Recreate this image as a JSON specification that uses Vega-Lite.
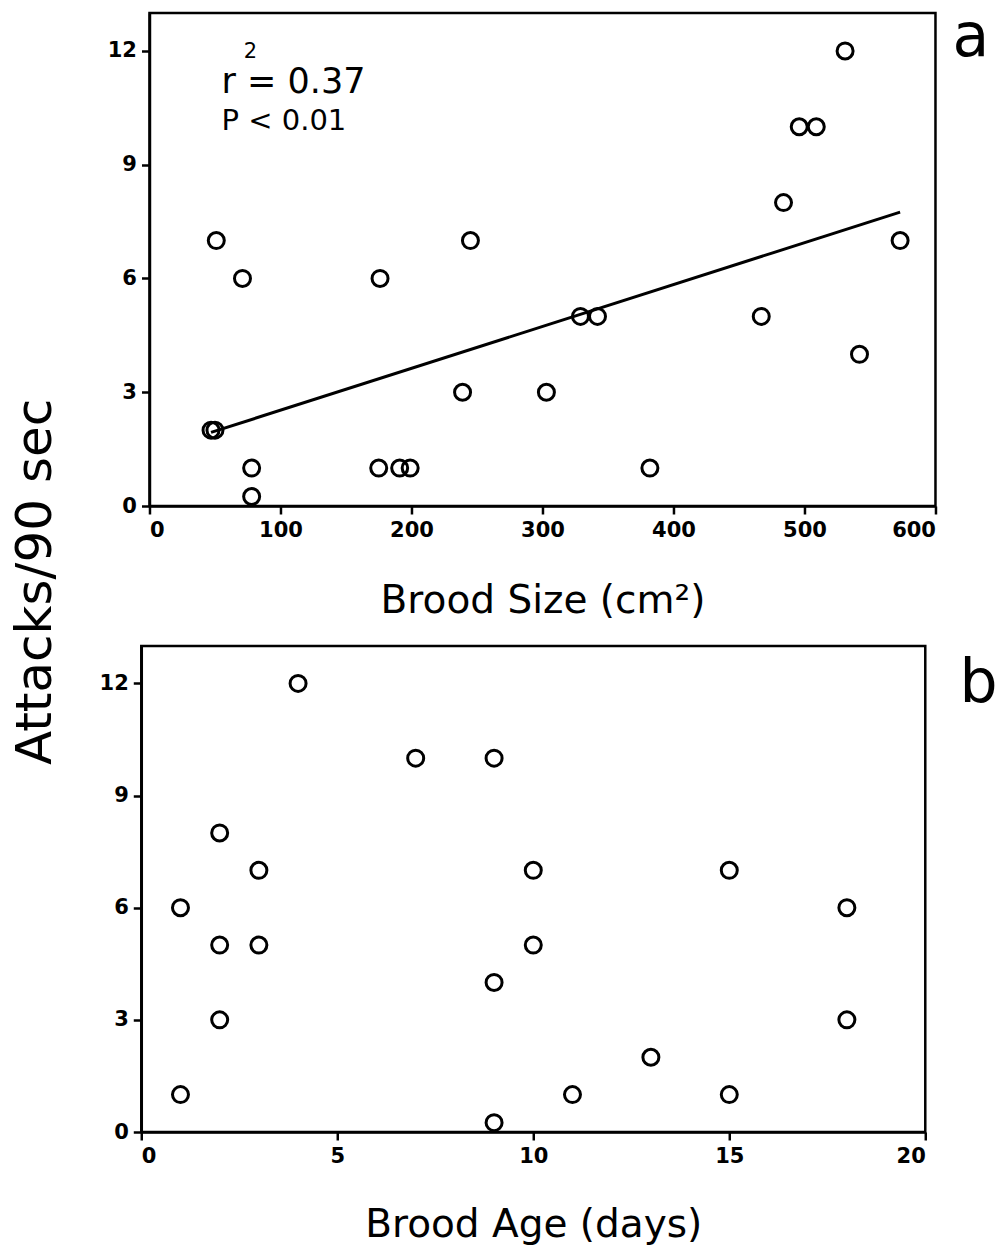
{
  "$schema": "https://vega.github.io/schema/vega-lite/v6.json",
  "background": "white",
  "padding": {"left": 10, "top": 6, "right": 0, "bottom": 0},
  "title": {
    "text": "Attacks/90 sec",
    "orient": "left",
    "anchor": "middle",
    "font": "DejaVu Sans",
    "fontSize": 50,
    "fontWeight": "normal",
    "color": "black",
    "offset": 37,
    "dx": 44
  },
  "datasets": {
    "bySize": [
      {"size": 47, "attacks": 2},
      {"size": 50, "attacks": 2},
      {"size": 51, "attacks": 7},
      {"size": 71, "attacks": 6},
      {"size": 78, "attacks": 1},
      {"size": 78, "attacks": 0.25},
      {"size": 175, "attacks": 1},
      {"size": 176, "attacks": 6},
      {"size": 191, "attacks": 1},
      {"size": 199, "attacks": 1},
      {"size": 239, "attacks": 3},
      {"size": 245, "attacks": 7},
      {"size": 303, "attacks": 3},
      {"size": 329, "attacks": 5},
      {"size": 342, "attacks": 5},
      {"size": 382, "attacks": 1},
      {"size": 467, "attacks": 5},
      {"size": 484, "attacks": 8},
      {"size": 496, "attacks": 10},
      {"size": 509, "attacks": 10},
      {"size": 531, "attacks": 12},
      {"size": 542, "attacks": 4},
      {"size": 573, "attacks": 7}
    ],
    "fit": [
      {"size": 47, "attacks": 1.94},
      {"size": 573, "attacks": 7.75}
    ],
    "byAge": [
      {"age": 1, "attacks": 6},
      {"age": 1, "attacks": 1},
      {"age": 2, "attacks": 8},
      {"age": 2, "attacks": 5},
      {"age": 2, "attacks": 3},
      {"age": 3, "attacks": 7},
      {"age": 3, "attacks": 5},
      {"age": 4, "attacks": 12},
      {"age": 7, "attacks": 10},
      {"age": 9, "attacks": 10},
      {"age": 9, "attacks": 4},
      {"age": 9, "attacks": 0.25},
      {"age": 10, "attacks": 7},
      {"age": 10, "attacks": 5},
      {"age": 11, "attacks": 1},
      {"age": 13, "attacks": 2},
      {"age": 15, "attacks": 7},
      {"age": 15, "attacks": 1},
      {"age": 18, "attacks": 6},
      {"age": 18, "attacks": 3}
    ]
  },
  "config": {
    "view": {"stroke": "black", "strokeWidth": 2.5},
    "axis": {
      "grid": false,
      "domainColor": "black",
      "domainWidth": 2.5,
      "tickColor": "black",
      "tickWidth": 2.5,
      "tickSize": 8,
      "labelPadding": 5,
      "labelFont": "DejaVu Sans",
      "labelFontWeight": "bold",
      "labelFontSize": 21,
      "labelColor": "black",
      "titleFont": "DejaVu Sans",
      "titleFontWeight": "normal",
      "titleFontSize": 39,
      "titleColor": "black"
    },
    "text": {"font": "DejaVu Sans", "color": "black"}
  },
  "spacing": 22,
  "center": true,
  "vconcat": [
    {
      "width": 786,
      "height": 493,
      "layer": [
        {
          "data": {"name": "bySize"},
          "mark": {"type": "point", "shape": "circle", "filled": false, "size": 256, "strokeWidth": 3, "color": "black", "opacity": 1},
          "encoding": {
            "x": {
              "field": "size", "type": "quantitative",
              "scale": {"domain": [0, 600], "nice": false, "zero": false},
              "axis": {"values": [0, 100, 200, 300, 400, 500, 600], "title": "Brood Size (cm²)", "titlePadding": 41}
            },
            "y": {
              "field": "attacks", "type": "quantitative",
              "scale": {"domain": [0, 13], "nice": false},
              "axis": {"values": [0, 3, 6, 9, 12], "title": null}
            }
          }
        },
        {
          "data": {"name": "fit"},
          "mark": {"type": "line", "color": "black", "strokeWidth": 3},
          "encoding": {
            "x": {"field": "size", "type": "quantitative"},
            "y": {"field": "attacks", "type": "quantitative"}
          }
        },
        {
          "data": {"values": [{}]},
          "mark": {"type": "text", "text": "r = 0.37", "fontSize": 35, "align": "left", "baseline": "alphabetic"},
          "encoding": {"x": {"datum": 55}, "y": {"datum": 10.9}}
        },
        {
          "data": {"values": [{}]},
          "mark": {"type": "text", "text": "2", "fontSize": 21, "align": "left", "baseline": "alphabetic"},
          "encoding": {"x": {"datum": 72}, "y": {"datum": 11.81}}
        },
        {
          "data": {"values": [{}]},
          "mark": {"type": "text", "text": "P < 0.01", "fontSize": 29, "align": "left", "baseline": "alphabetic"},
          "encoding": {"x": {"datum": 55}, "y": {"datum": 9.92}}
        },
        {
          "data": {"values": [{}]},
          "mark": {"type": "text", "text": "a", "fontSize": 60, "align": "left", "baseline": "alphabetic"},
          "encoding": {"x": {"datum": 613}, "y": {"datum": 11.87}}
        }
      ]
    },
    {
      "width": 784,
      "height": 486,
      "layer": [
        {
          "data": {"name": "byAge"},
          "mark": {"type": "point", "shape": "circle", "filled": false, "size": 256, "strokeWidth": 3, "color": "black", "opacity": 1},
          "encoding": {
            "x": {
              "field": "age", "type": "quantitative",
              "scale": {"domain": [0, 20], "nice": false, "zero": false},
              "axis": {"values": [0, 5, 10, 15, 20], "title": "Brood Age (days)", "titlePadding": 39}
            },
            "y": {
              "field": "attacks", "type": "quantitative",
              "scale": {"domain": [0, 13], "nice": false},
              "axis": {"values": [0, 3, 6, 9, 12], "title": null}
            }
          }
        },
        {
          "data": {"values": [{}]},
          "mark": {"type": "text", "text": "b", "fontSize": 60, "align": "left", "baseline": "alphabetic"},
          "encoding": {"x": {"datum": 20.87}, "y": {"datum": 11.5}}
        }
      ]
    }
  ]
}
